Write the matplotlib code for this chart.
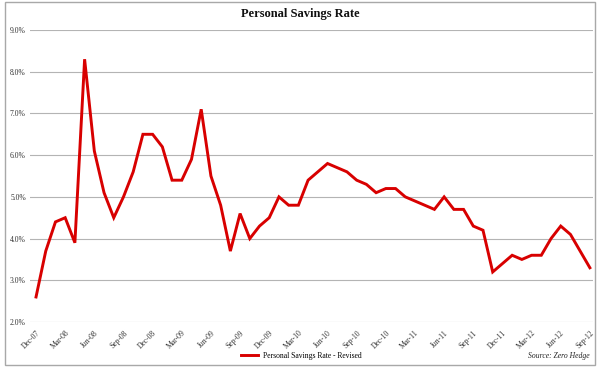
import numpy as np
import pandas as pd
import matplotlib
matplotlib.use("Agg")
import matplotlib.pyplot as plt
from matplotlib.patches import Rectangle
from matplotlib.ticker import FuncFormatter

# monthly personal savings rate, Dec-07 .. Sep-12 (%)
months = pd.date_range("2007-12-01", "2012-09-01", freq="MS")
savings_rate = [
    2.6,
    3.7, 4.4, 4.5, 3.9, 8.3, 6.1, 5.1, 4.5, 5.0, 5.6, 6.5, 6.5,
    6.2, 5.4, 5.4, 5.9, 7.1, 5.5, 4.8, 3.7, 4.6, 4.0, 4.3, 4.5,
    5.0, 4.8, 4.8, 5.4, 5.6, 5.8, 5.7, 5.6, 5.4, 5.3, 5.1, 5.2,
    5.2, 5.0, 4.9, 4.8, 4.7, 5.0, 4.7, 4.7, 4.3, 4.2, 3.2, 3.4,
    3.6, 3.5, 3.6, 3.6, 4.0, 4.3, 4.1, 3.7, 3.3,
]
y_ticks = [2, 3, 4, 5, 6, 7, 8, 9]
series_name = "Personal Savings Rate - Revised"

serif = ["Liberation Serif", "DejaVu Serif"]

fig = plt.figure(figsize=(6, 3.67), dpi=100)
ax = fig.add_axes([0.05, 0.1226, 0.938, 0.7956])

x = np.arange(len(months))
ax.plot(x, savings_rate, color="#d80000", lw=2.1, solid_joinstyle="miter",
        label=series_name, zorder=3)

ax.set_ylim(2, 9)
ax.set_yticks(y_ticks)
ax.yaxis.set_major_formatter(FuncFormatter(lambda v, p: "%.1f%%" % v))
ax.grid(axis="y", color="#b4b4b4", lw=0.8)
ax.set_axisbelow(True)

tick_pos = x[::3]
ax.set_xticks(tick_pos)
ax.set_xticklabels([months[i].strftime("%b-%y") for i in tick_pos],
                   rotation=45, ha="right", va="top", rotation_mode="anchor")
ax.set_xlim(-0.62, 57.3)

ax.tick_params(length=0, labelsize=5.5, pad=3, colors="#333333")
ax.tick_params(axis="x", pad=5)
for lab in ax.get_xticklabels() + ax.get_yticklabels():
    lab.set_family(serif)
for s in ax.spines.values():
    s.set_visible(False)

fig.text(0.5, 0.962, "Personal Savings Rate", ha="center", va="center",
         family=serif, weight="bold", size=9, color="#111111")

fig.legend(loc="center", bbox_to_anchor=(0.502, 0.03), frameon=False,
           prop={"family": serif, "size": 5.5}, handlelength=2.2,
           handletextpad=0.6)
fig.text(0.982, 0.03, "Source: Zero Hedge", ha="right", va="center",
         family=serif, style="italic", size=5.5, color="#222222")

# light grey frame round the whole chart
fig.patches.append(Rectangle((0.008, 0.005), 0.983, 0.99, transform=fig.transFigure,
                             fill=False, edgecolor="#a8a8a8", lw=1.0))

fig.savefig("out.png", dpi=100)
